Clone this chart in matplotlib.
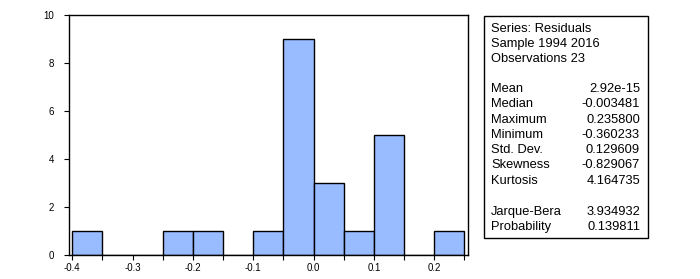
import matplotlib
matplotlib.use("Agg")
import matplotlib.pyplot as plt
import numpy as np

plt.rcParams['font.family'] = ['Liberation Sans', 'DejaVu Sans']

# histogram bins (width 0.05) and counts
bin_edges = [-0.40, -0.35, -0.30, -0.25, -0.20, -0.15, -0.10, -0.05, 0.00, 0.05, 0.10, 0.15, 0.20, 0.25]
counts = [1, 0, 0, 1, 1, 0, 1, 9, 3, 1, 5, 0, 1]

stat_names = ["Mean", "Median", "Maximum", "Minimum", "Std. Dev.", "Skewness", "Kurtosis"]
stat_values = ["2.92e-15", "-0.003481", "0.235800", "-0.360233", "0.129609", "-0.829067", "4.164735"]
jb_names = ["Jarque-Bera", "Probability"]
jb_values = ["3.934932", "0.139811"]
header = ["Series: Residuals", "Sample 1994 2016", "Observations 23"]

W, H = 700, 279
fig = plt.figure(figsize=(7, 2.79), dpi=100)
ax = fig.add_axes([69 / W, 1 - 255 / H, (468 - 69) / W, (255 - 15) / H])

lefts = np.array(bin_edges[:-1])
widths = np.diff(bin_edges)
ax.bar(lefts, counts, width=widths, align='edge', color='#99bbff',
       edgecolor='black', linewidth=1.0)

ax.set_xlim(-0.4055, 0.2561)
ax.set_ylim(0, 10)
ax.set_xticks([-0.4, -0.3, -0.2, -0.1, 0.0, 0.1, 0.2])
ax.set_xticklabels(["-0.4", "-0.3", "-0.2", "-0.1", "0.0", "0.1", "0.2"])
ax.set_xticks(np.arange(-0.35, 0.26, 0.1), minor=True)
ax.set_yticks([0, 2, 4, 6, 8, 10])
ax.tick_params(axis='both', labelsize=7, length=3.5, width=0.8, direction='out')
ax.tick_params(axis='x', which='both', length=3.5, width=0.8, pad=2)
ax.tick_params(axis='y', pad=7)
for s in ax.spines.values():
    s.set_linewidth(1.0)

# stats box
box = plt.Rectangle((484 / W, 1 - 238 / H), (648 - 484) / W, (238 - 16) / H,
                    transform=fig.transFigure, fill=False, edgecolor='black', linewidth=1.0)
fig.patches.append(box)

fs = 9.3
xl = 491 / W
xr = 640 / W
ys = [29, 44, 59]
for t, y in zip(header, ys):
    fig.text(xl, 1 - y / H, t, fontsize=fs, va='center', ha='left')
y0 = 89
for i, (n, v) in enumerate(zip(stat_names, stat_values)):
    y = y0 + i * 15.3
    fig.text(xl, 1 - y / H, n, fontsize=fs, va='center', ha='left')
    fig.text(xr, 1 - y / H, v, fontsize=fs, va='center', ha='right')
y0 = 212
for i, (n, v) in enumerate(zip(jb_names, jb_values)):
    y = y0 + i * 15.3
    fig.text(xl, 1 - y / H, n, fontsize=fs, va='center', ha='left')
    fig.text(xr, 1 - y / H, v, fontsize=fs, va='center', ha='right')

fig.savefig("out.png", dpi=100)
